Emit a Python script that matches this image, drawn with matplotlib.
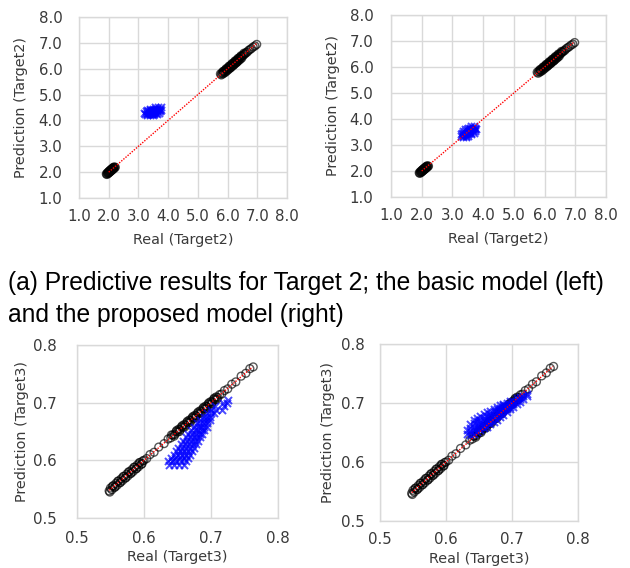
import matplotlib
matplotlib.use("Agg")
import matplotlib.pyplot as plt

# ---- Data ----
# Target2: black markers (shared by both top panels)
t2_black_x = [1.92,1.94,1.95,1.97,1.98,1.99,2.00,2.01,2.02,2.03,2.04,2.05,2.06,2.07,2.08,2.09,2.10,2.11,
              2.12,2.13,2.14,2.15,2.16,2.17,2.18,2.20,2.22,
              5.76,5.79,5.81,5.84,5.86,5.88,5.90,5.92,5.94,5.96,5.98,6.00,6.02,6.04,6.06,6.08,6.10,6.12,
              6.14,6.16,6.18,6.20,6.22,6.24,6.26,6.28,6.30,6.32,6.34,6.36,6.38,6.40,6.42,6.44,6.46,6.48,
              6.50,6.53,6.56,6.59,6.62,6.66,6.70,6.75,6.80,6.86,6.92,6.98,
              5.85,5.95,6.05,6.15,6.25,6.35,6.45,6.55,6.20,6.10,6.30]
t2_black_y = [1.93,1.91,1.97,1.94,1.99,1.96,2.02,1.98,2.04,2.00,2.06,2.02,2.08,2.04,2.10,2.06,2.12,2.08,
              2.14,2.10,2.16,2.12,2.18,2.14,2.20,2.17,2.19,
              5.80,5.76,5.84,5.80,5.88,5.83,5.92,5.86,5.96,5.90,6.00,5.94,6.04,5.98,6.08,6.02,6.12,6.06,
              6.16,6.10,6.20,6.14,6.24,6.18,6.28,6.22,6.32,6.26,6.36,6.30,6.40,6.34,6.44,6.38,6.48,6.42,
              6.50,6.52,6.56,6.58,6.62,6.64,6.70,6.74,6.78,6.84,6.88,6.94,
              5.90,6.00,6.10,6.20,6.30,6.40,6.50,6.60,6.14,6.04,6.24]

# Target2 basic model: blue cloud (rows of equal prediction)
t2_basic_rows_y = [4.20, 4.25, 4.30, 4.35, 4.40, 4.45, 4.50]
t2_basic_rows_x = [[3.30,3.40,3.50],
                   [3.22,3.30,3.38,3.46,3.54,3.62],
                   [3.20,3.28,3.36,3.44,3.52,3.60,3.68],
                   [3.24,3.32,3.40,3.48,3.56,3.64,3.72],
                   [3.30,3.38,3.46,3.54,3.62,3.70,3.76],
                   [3.40,3.48,3.56,3.64,3.72],
                   [3.55,3.65,3.75]]

# Target2 proposed model: blue cloud
t2_prop_rows_y = [3.30, 3.36, 3.42, 3.48, 3.54, 3.60, 3.66, 3.72]
t2_prop_rows_x = [[3.35,3.45],
                  [3.28,3.36,3.44,3.52],
                  [3.27,3.35,3.43,3.51,3.59],
                  [3.30,3.38,3.46,3.54,3.62,3.70],
                  [3.34,3.42,3.50,3.58,3.66,3.74],
                  [3.40,3.48,3.56,3.64,3.72,3.78],
                  [3.50,3.58,3.66,3.74],
                  [3.60,3.70]]

# Target3: black markers (shared by both bottom panels)
t3_black_x = [0.548,0.550,0.552,0.554,0.556,0.558,0.560,0.562,0.564,0.566,0.568,0.570,0.572,0.574,0.576,
              0.578,0.580,0.582,0.584,0.586,0.588,0.590,0.592,0.594,0.596,0.598,0.600,0.604,0.609,0.615,
              0.622,0.630,0.636,0.640,0.643,0.646,0.648,0.650,0.652,0.654,0.656,0.658,0.660,0.662,0.664,
              0.666,0.668,0.670,0.672,0.674,0.676,0.678,0.680,0.682,0.684,0.686,0.688,0.690,0.692,0.694,
              0.696,0.698,0.700,0.702,0.704,0.706,0.708,0.710,0.713,0.716,0.720,0.725,0.731,0.737,0.745,
              0.752,0.758,0.763,
              0.549,0.553,0.557,0.561,0.565,0.569,0.573,0.577,0.581,0.585,0.589,0.593,0.597,
              0.641,0.645,0.649,0.653,0.657,0.661,0.665,0.669,0.673,0.677,0.681,0.685,0.689,0.693,
              0.697,0.701,0.705,0.709]
t3_black_y = [0.547,0.552,0.549,0.556,0.553,0.560,0.557,0.564,0.561,0.568,0.565,0.572,0.569,0.576,0.573,
              0.580,0.577,0.584,0.581,0.588,0.585,0.592,0.589,0.596,0.593,0.599,0.600,0.603,0.610,0.614,
              0.623,0.629,0.637,0.639,0.644,0.645,0.650,0.649,0.654,0.653,0.658,0.657,0.662,0.661,0.666,
              0.665,0.670,0.669,0.674,0.673,0.678,0.677,0.682,0.681,0.686,0.685,0.690,0.689,0.694,0.693,
              0.698,0.697,0.702,0.701,0.706,0.705,0.710,0.709,0.714,0.715,0.721,0.724,0.732,0.736,0.746,
              0.751,0.759,0.762,
              0.545,0.555,0.554,0.564,0.562,0.572,0.570,0.580,0.578,0.588,0.586,0.596,0.594,
              0.644,0.642,0.652,0.650,0.660,0.658,0.668,0.666,0.676,0.674,0.684,0.682,0.692,0.690,
              0.700,0.698,0.708,0.706]

# Target3 basic model: blue wedge (rows of equal prediction)
t3_basic_rows_y = [0.592,0.598,0.604,0.610,0.616,0.622,0.628,0.634,0.640,0.646,0.652,0.658,0.664,0.670,
                   0.676,0.682,0.688,0.694,0.700,0.705]
t3_basic_rows_x = [[0.638,0.645,0.652,0.660],
                   [0.636,0.642,0.648,0.655,0.662],
                   [0.641,0.647,0.653,0.659,0.665],
                   [0.645,0.651,0.657,0.663,0.668],
                   [0.648,0.654,0.660,0.666,0.671],
                   [0.651,0.657,0.663,0.669,0.674],
                   [0.655,0.661,0.667,0.673,0.677],
                   [0.658,0.664,0.670,0.676,0.680],
                   [0.662,0.668,0.674,0.679,0.684],
                   [0.666,0.672,0.678,0.683,0.687],
                   [0.670,0.676,0.681,0.686,0.690],
                   [0.675,0.680,0.685,0.690,0.694],
                   [0.679,0.684,0.689,0.694],
                   [0.684,0.689,0.694,0.698],
                   [0.689,0.694,0.699],
                   [0.694,0.700,0.705],
                   [0.700,0.708,0.716],
                   [0.706,0.720],
                   [0.718,0.724],
                   [0.726]]

# Target3 proposed model: blue band (columns of equal real value)
t3_prop_cols_x = [0.632,0.637,0.642,0.647,0.652,0.657,0.662,0.667,0.672,0.677,0.682,0.687,0.692,0.697,
                  0.702,0.707,0.712,0.717,0.722]
t3_prop_cols_y = [[0.648,0.654],
                  [0.646,0.652,0.658,0.664],
                  [0.648,0.654,0.660,0.666,0.671],
                  [0.651,0.657,0.663,0.669,0.675],
                  [0.654,0.660,0.666,0.672,0.678],
                  [0.657,0.663,0.669,0.675,0.681],
                  [0.660,0.666,0.672,0.678,0.684],
                  [0.664,0.670,0.676,0.682,0.687],
                  [0.668,0.674,0.680,0.686,0.690],
                  [0.672,0.678,0.684,0.689,0.693],
                  [0.676,0.682,0.687,0.692,0.696],
                  [0.680,0.686,0.691,0.696,0.699],
                  [0.685,0.690,0.695,0.700],
                  [0.689,0.694,0.699,0.703],
                  [0.694,0.699,0.704],
                  [0.698,0.703,0.708],
                  [0.702,0.707,0.711],
                  [0.706,0.712],
                  [0.712,0.716]]

t2_ticks = [1.0,2.0,3.0,4.0,5.0,6.0,7.0,8.0]
t3_ticks = [0.5,0.6,0.7,0.8]
caption = "(a) Predictive results for Target 2; the basic model (left)\nand the proposed model (right)"


def rows_to_xy(keys, rows, keys_are_y=True):
    xs, ys = [], []
    for k, vals in zip(keys, rows):
        for v in vals:
            if keys_are_y:
                xs.append(v); ys.append(k)
            else:
                xs.append(k); ys.append(v)
    return xs, ys


plt.rcParams['font.family'] = ['DejaVu Sans']

W, H = 630, 568
fig = plt.figure(figsize=(6.3, 5.68), dpi=100)

# pixel boxes: left, top, right, bottom
axes_px = {
    'tl': (79, 17, 287, 198),
    'tr': (391, 15, 606, 197),
    'bl': (77, 345, 278, 518),
    'br': (380, 344, 578, 521),
}
# per panel: y tick gap px, x tick pad pt, xlabel center offset px, ylabel center offset px
layout = {
    'tl': (18, 8.0, 42, 58),
    'tr': (19, 8.0, 42, 58),
    'bl': (22, 9.1, 39.5, 55),
    'br': (17, 8.0, 38.5, 52),
}

tick_color = '#3a3a3a'
grid_color = '#d9d9d9'


def make_ax(key):
    l, t, r, b = axes_px[key]
    return fig.add_axes([l / W, 1 - b / H, (r - l) / W, (b - t) / H])


def style(ax, key, ticks, fmt, xl, yl):
    l, t, r, b = axes_px[key]
    ygap, xpad, xlo, ylo = layout[key]
    ax.set_xlim(ticks[0], ticks[-1])
    ax.set_ylim(ticks[0], ticks[-1])
    ax.set_xticks(ticks)
    ax.set_yticks(ticks)
    ax.set_xticklabels([fmt.format(tk) for tk in ticks])
    ax.set_yticklabels([fmt.format(tk) for tk in ticks])
    ax.grid(True, color=grid_color, linewidth=1.0)
    ax.set_axisbelow(True)
    for s in ax.spines.values():
        s.set_color(grid_color)
        s.set_linewidth(1.0)
    ax.tick_params(length=0, labelsize=10.8, colors=tick_color)
    ax.tick_params(axis='x', pad=xpad)
    ax.tick_params(axis='y', pad=(ygap - 1.4) * 0.72)
    ax.set_xlabel(xl, fontsize=10.4, color=tick_color, va='center')
    ax.set_ylabel(yl, fontsize=10.4, color=tick_color, va='center')
    ax.xaxis.set_label_coords(0.5, -xlo / (b - t))
    ax.yaxis.set_label_coords(-ylo / (r - l), 0.5)


def draw(ax, bx, by, ux, uy, lo, hi):
    ax.scatter(bx, by, s=32, facecolors='none', edgecolors=(0, 0, 0, 0.65), linewidths=1.0, zorder=3)
    ax.scatter(ux, uy, s=26, marker='x', color=(0, 0, 1, 0.7), linewidths=1.4, zorder=4)
    ax.plot([lo, hi], [lo, hi], linestyle=(0, (1, 1)), color='red', linewidth=1.0, zorder=5)


ax = make_ax('tl')
bx, by = rows_to_xy(t2_basic_rows_y, t2_basic_rows_x)
draw(ax, t2_black_x, t2_black_y, bx, by, 2.0, 7.0)
style(ax, 'tl', t2_ticks, "{:.1f}", "Real (Target2)", "Prediction (Target2)")

ax = make_ax('tr')
bx, by = rows_to_xy(t2_prop_rows_y, t2_prop_rows_x)
draw(ax, t2_black_x, t2_black_y, bx, by, 2.0, 6.95)
style(ax, 'tr', t2_ticks, "{:.1f}", "Real (Target2)", "Prediction (Target2)")

ax = make_ax('bl')
bx, by = rows_to_xy(t3_basic_rows_y, t3_basic_rows_x)
draw(ax, t3_black_x, t3_black_y, bx, by, 0.548, 0.762)
style(ax, 'bl', t3_ticks, "{:.1f}", "Real (Target3)", "Prediction (Target3)")

ax = make_ax('br')
bx, by = rows_to_xy(t3_prop_cols_x, t3_prop_cols_y, keys_are_y=False)
draw(ax, t3_black_x, t3_black_y, bx, by, 0.548, 0.762)
style(ax, 'br', t3_ticks, "{:.1f}", "Real (Target3)", "Prediction (Target3)")

fig.text(8 / W, 1 - 271 / H, caption, fontsize=17.7, family=['Liberation Sans'],
         color='black', va='top', ha='left', linespacing=1.4)

fig.savefig("out.png", dpi=100)
